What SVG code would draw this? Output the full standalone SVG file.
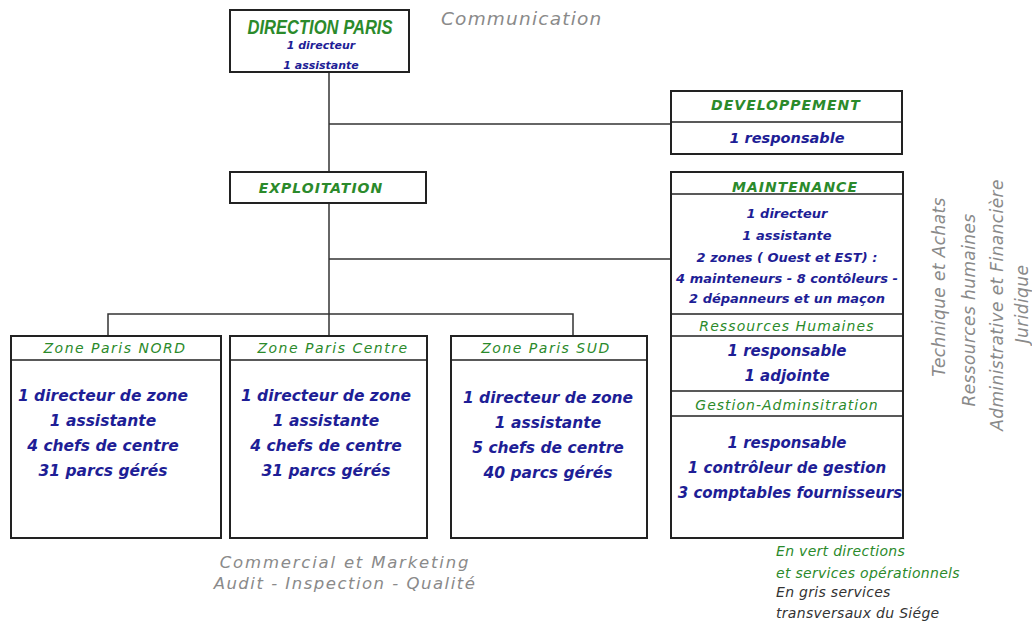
<svg xmlns="http://www.w3.org/2000/svg" width="1032" height="621" viewBox="0 0 1032 621">
<style>
.box{fill:#fff;stroke:#222;stroke-width:2}
.dv{stroke:#222;stroke-width:1.5}
.conn{stroke:#333;stroke-width:1.5;fill:none}
.g{fill:#2b8a2b;font-family:"DejaVu Sans",sans-serif;font-style:italic;text-anchor:middle}
.gh{fill:#2b8a2b;font-family:"DejaVu Sans",sans-serif;font-style:italic;font-weight:bold;font-size:14px;letter-spacing:1px;text-anchor:middle}
.b{fill:#1e1e96;font-family:"DejaVu Sans",sans-serif;font-style:italic;font-weight:bold;text-anchor:middle}
.gr{fill:#8a8a8a;font-family:"DejaVu Sans",sans-serif;font-style:italic}
.zb{font-size:15.5px}
.zh{font-size:14px;letter-spacing:1.5px}
</style>
<rect width="1032" height="621" fill="#fff"/>
<g id="connectors">
<path class="conn" d="M329,72 V172"/>
<path class="conn" d="M329,124 H671"/>
<path class="conn" d="M329,203 V335"/>
<path class="conn" d="M329,259 H671"/>
<path class="conn" d="M108,335 V314 H573 V336"/>
</g>
<g id="direction">
<rect class="box" x="230" y="10" width="179" height="62"/>
<text class="g" x="320" y="34" font-size="20" font-weight="bold" font-style="normal" textLength="145" lengthAdjust="spacingAndGlyphs" style="font-family:'Liberation Sans',sans-serif">DIRECTION PARIS</text>
<text class="b" x="321" y="49" font-size="11">1 directeur</text>
<text class="b" x="321" y="69" font-size="11">1 assistante</text>
</g>
<g id="developpement">
<rect class="box" x="671" y="91" width="231" height="63"/>
<line class="dv" x1="671" y1="122" x2="902" y2="122"/>
<text class="gh" x="786" y="110">DEVELOPPEMENT</text>
<text class="b" x="787" y="143" font-size="14.5">1 responsable</text>
</g>
<g id="exploitation">
<rect class="box" x="230" y="172" width="196" height="31"/>
<text class="gh" x="321" y="193">EXPLOITATION</text>
</g>
<g id="maintenance">
<rect class="box" x="671" y="172" width="232" height="366"/>
<line class="dv" x1="671" y1="194" x2="903" y2="194"/>
<line class="dv" x1="671" y1="314" x2="903" y2="314"/>
<line class="dv" x1="671" y1="336" x2="903" y2="336"/>
<line class="dv" x1="671" y1="391" x2="903" y2="391"/>
<line class="dv" x1="671" y1="416" x2="903" y2="416"/>
<text class="gh" x="795" y="192">MAINTENANCE</text>
<text class="b" x="787" y="218" font-size="13">1 directeur</text>
<text class="b" x="787" y="240" font-size="13">1 assistante</text>
<text class="b" x="787" y="262" font-size="13">2 zones ( Ouest et EST) :</text>
<text class="b" x="787" y="283" font-size="13">4 mainteneurs - 8 contôleurs -</text>
<text class="b" x="787" y="303" font-size="13">2 dépanneurs et un maçon</text>
<text class="g" x="787" y="331" font-size="14" letter-spacing="1.1">Ressources Humaines</text>
<text class="b" x="787" y="356" font-size="15">1 responsable</text>
<text class="b" x="787" y="381" font-size="15">1 adjointe</text>
<text class="g" x="787" y="410" font-size="14" letter-spacing="1">Gestion-Adminsitration</text>
<text class="b" x="787" y="448" font-size="15">1 responsable</text>
<text class="b" x="787" y="473" font-size="15">1 contrôleur de gestion</text>
<text class="b" x="790" y="498" font-size="15">3 comptables fournisseurs</text>
</g>
<g id="zone-nord">
<rect class="box" x="11" y="336" width="210" height="202"/>
<line class="dv" x1="11" y1="360" x2="221" y2="360"/>
<text class="g zh" x="115" y="353">Zone Paris NORD</text>
<text class="b zb" x="103" y="401">1 directeur de zone</text>
<text class="b zb" x="103" y="426">1 assistante</text>
<text class="b zb" x="103" y="451">4 chefs de centre</text>
<text class="b zb" x="103" y="476">31 parcs gérés</text>
</g>
<g id="zone-centre">
<rect class="box" x="230" y="336" width="197" height="202"/>
<line class="dv" x1="230" y1="360" x2="427" y2="360"/>
<text class="g zh" x="333" y="353">Zone Paris Centre</text>
<text class="b zb" x="326" y="401">1 directeur de zone</text>
<text class="b zb" x="326" y="426">1 assistante</text>
<text class="b zb" x="326" y="451">4 chefs de centre</text>
<text class="b zb" x="326" y="476">31 parcs gérés</text>
</g>
<g id="zone-sud">
<rect class="box" x="451" y="336" width="196" height="202"/>
<line class="dv" x1="451" y1="360" x2="647" y2="360"/>
<text class="g zh" x="546" y="353">Zone Paris SUD</text>
<text class="b zb" x="548" y="403">1 directeur de zone</text>
<text class="b zb" x="548" y="428">1 assistante</text>
<text class="b zb" x="548" y="453">5 chefs de centre</text>
<text class="b zb" x="548" y="478">40 parcs gérés</text>
</g>
<g id="transversal">
<text class="gr" x="441" y="25" font-size="18.5" letter-spacing="1.2">Communication</text>
<g font-size="17" text-anchor="middle">
<text class="gr" transform="translate(945,287) rotate(-90)" letter-spacing="0.4">Technique et Achats</text>
<text class="gr" transform="translate(975,310) rotate(-90)" letter-spacing="0.4">Ressources humaines</text>
<text class="gr" transform="translate(1003,305) rotate(-90)" letter-spacing="0.4">Administrative et Financière</text>
<text class="gr" transform="translate(1028,304) rotate(-90)" letter-spacing="0.4">Juridique</text>
</g>
<text class="gr" x="345" y="568" font-size="16.5" letter-spacing="1.8" text-anchor="middle">Commercial et Marketing</text>
<text class="gr" x="345" y="589" font-size="16.5" letter-spacing="1.5" text-anchor="middle">Audit - Inspection - Qualité</text>
</g>
<g id="legend" font-family="DejaVu Sans, sans-serif" font-style="italic" font-size="14" letter-spacing="0.3">
<text x="776" y="556" fill="#2b8a2b">En vert directions</text>
<text x="776" y="578" fill="#2b8a2b">et services opérationnels</text>
<text x="776" y="597" fill="#333">En gris services</text>
<text x="776" y="618" fill="#333">transversaux du Siége</text>
</g>
</svg>
